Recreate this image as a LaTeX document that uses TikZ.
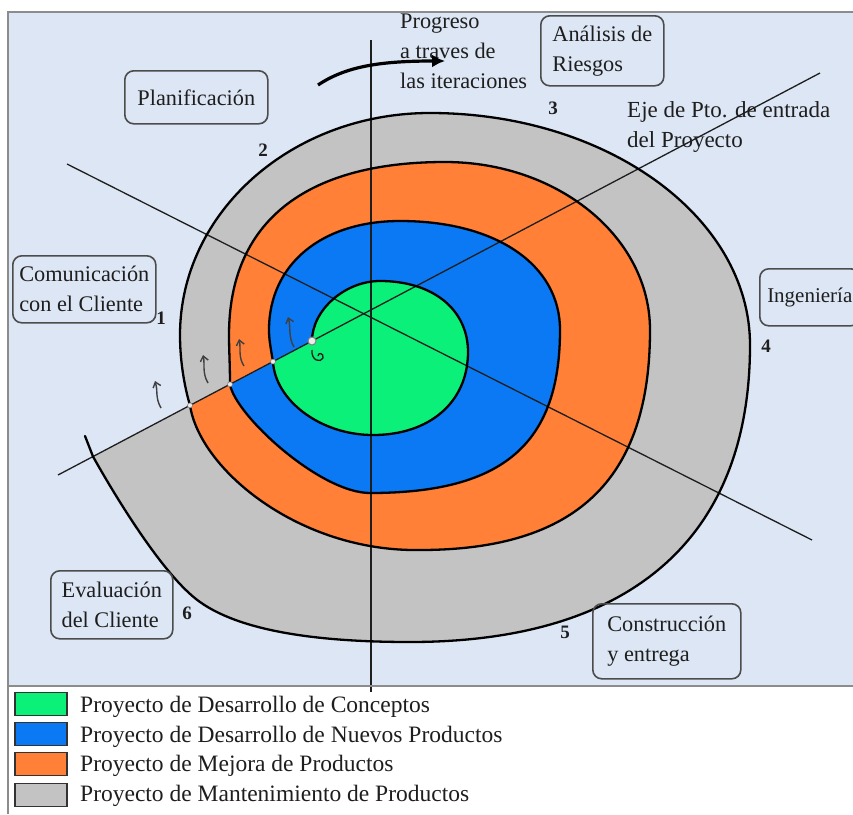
\documentclass[tikz,border=0pt]{standalone}
\usepackage{fontspec}
\setmainfont{Liberation Serif}
\usetikzlibrary{arrows.meta}
\definecolor{panelbg}{HTML}{DDE6F4}
\definecolor{cgreen}{HTML}{0AF078}
\definecolor{cblue}{HTML}{0A79F3}
\definecolor{corange}{HTML}{FF8036}
\definecolor{cgray}{HTML}{C3C3C3}
\definecolor{framec}{HTML}{8C8C8C}
\definecolor{ink}{HTML}{1E1E1E}
\newcommand{\lblsize}{\fontsize{22.3}{30}\selectfont}
\newcommand{\ingsize}{\fontsize{21}{30}\selectfont}
\newcommand{\ejesize}{\fontsize{23}{29.5}\selectfont}
\newcommand{\legsize}{\fontsize{23.5}{30}\selectfont}
\newcommand{\numsize}{\fontsize{19}{19}\selectfont\bfseries}
% spiral turns (clockwise, each starts and ends on the entry axis)
\def\turnA{(312,341) .. controls (312,310) and (345,281) .. (380,281)
  .. controls (432.8,281) and (468,309.4) .. (468,352)
  .. controls (468,401.8) and (430,435) .. (373,435)
  .. controls (320,435) and (275,400) .. (273,361.6)}
\def\turnB{(273,361.6) .. controls (271,350) and (269,340) .. (269,330)
  .. controls (269,264.6) and (321.4,221) .. (400,221)
  .. controls (496,221) and (560,264.6) .. (560,330)
  .. controls (560,444) and (503,493) .. (370,493)
  .. controls (320,493) and (235,415) .. (230,384.3)}
\def\turnC{(230,384.3) .. controls (230,365) and (229,350) .. (229,335)
  .. controls (229,222.5) and (304.6,162) .. (445,162)
  .. controls (558,162) and (650,237) .. (650,330)
  .. controls (650,480) and (576,550) .. (420,550)
  .. controls (300,552) and (200,470) .. (190,405.4)}
\def\turnD{(190,405.4) .. controls (184,385) and (180,360) .. (180,335)
  .. controls (180,212) and (292,113) .. (430,113)
  .. controls (607,113) and (750,217) .. (750,345)
  .. controls (750,538) and (631,642) .. (410,642)
  .. controls (330,642) and (245,634) .. (200,602)
  .. controls (160,574) and (105,478) .. (93,456.5)}
\begin{document}
\begin{tikzpicture}[x=1pt,y=-1pt,
  spiral/.style={line width=2.3pt, draw=black, line join=round, line cap=round},
  axisline/.style={line width=1.3pt, draw=ink},
  txt/.style={font=\lblsize, align=left, inner sep=0pt, text=ink},
  box/.style={txt, draw=black!70, line width=1.6pt, rounded corners=9pt},
  num/.style={font=\numsize, inner sep=0pt, text=ink},
  uparr/.style={line width=1.4pt, draw=black!75, -{Straight Barb[length=5pt,width=8pt]}},
  junction/.style={circle, inner sep=0pt, minimum size=5pt, fill=white!85!gray, draw=gray, line width=0.6pt},
  legbox/.style={draw=black!80, line width=1.8pt, minimum width=52pt, minimum height=23pt, inner sep=0pt},
  legtxt/.style={font=\legsize, anchor=west, inner sep=0pt, text=ink}
]
\useasboundingbox (0,0) rectangle (853,814);
\fill[white] (0,0) rectangle (853,814);
% panel
\fill[panelbg] (8,12) rectangle (853,686);
% spiral bands (outer to inner)
\fill[cgray] \turnD -- cycle;
\fill[corange] \turnC -- cycle;
\fill[cblue] \turnB -- cycle;
\fill[cgreen] \turnA -- cycle;
% axes
\coordinate (A1) at (58,475);
\coordinate (A2) at (820,73);
\coordinate (B1) at (67,164);
\coordinate (B2) at (812,540);
\coordinate (V1) at (371,40);
\coordinate (V2) at (371,692);
\draw[axisline] (A1) -- (A2);
\draw[axisline] (B1) -- (B2);
\draw[axisline] (V1) -- (V2);
% spiral strokes
\draw[spiral] \turnA;
\draw[spiral] \turnB;
\draw[spiral] \turnC;
\draw[spiral] \turnD;
\coordinate (P4) at (93,456.5);
\coordinate (P4e) at (85,436);
\draw[spiral] (P4) -- (P4e);
% junction marks
\node[junction, minimum size=8pt, line width=1pt] (j0) at (312,341) {};
\node[junction] (j1) at (273,361.6) {};
\node[junction] (j2) at (230,384.3) {};
\node[junction] (j3) at (190,405.4) {};
\coordinate (c1) at (312,350);
\coordinate (c2) at (318,356);
\draw[line width=1.3pt, draw=ink] (c1) .. controls (311,361) and (321,363) .. (323,358) .. controls (324,353) and (318,352) .. (c2);
% small progress arrows
\coordinate (u1b) at (161,408); \coordinate (u1t) at (155,381);
\coordinate (u2b) at (208,383); \coordinate (u2t) at (203,355);
\coordinate (u3b) at (244,366); \coordinate (u3t) at (239,339);
\coordinate (u4b) at (294,347); \coordinate (u4t) at (288,317);
\draw[uparr] (u1b) .. controls (155,398) and (158,390) .. (u1t);
\draw[uparr] (u2b) .. controls (202,373) and (205,364) .. (u2t);
\draw[uparr] (u3b) .. controls (238,357) and (241,348) .. (u3t);
\draw[uparr] (u4b) .. controls (288,337) and (291,327) .. (u4t);
% frame
\draw[framec, line width=2.2pt] (853,12) -- (8,12) -- (8,814);
\draw[framec, line width=2pt] (8,686) -- (853,686);
% progress text and arrow
\node[txt, anchor=west] (prog) at (400,51) {Progreso\\a traves de\\las iteraciones};
\coordinate (G1) at (318,85);
\coordinate (G2) at (445,61);
\draw[line width=3.2pt, draw=black, -{Latex[length=13pt,width=13pt]}] (G1) .. controls (345,67) and (378,61) .. (G2);
% labels
\node[box, anchor=north west, minimum width=143pt, minimum height=53pt] (plan) at (124,70) {Planificación};
\node[box, anchor=north west, minimum width=123pt, minimum height=70pt] (ries) at (540,15) {Análisis de\\Riesgos};
\node[box, anchor=north west, minimum width=143pt, minimum height=67pt] (comu) at (12,255) {Comunicación\\con el Cliente};
\node[box, font=\ingsize, anchor=north west, minimum width=100pt, minimum height=57pt] (inge) at (759,268) {Ingeniería};
\node[box, anchor=north west, minimum width=122pt, minimum height=68pt] (eval) at (50,570) {Evaluación\\del Cliente};
\node[box, anchor=north west, minimum width=148pt, minimum height=75pt] (cons) at (592,603) {Construcción\\y entrega};
\node[txt, font=\ejesize, anchor=west] (eje) at (627,127) {Eje de Pto. de entrada\\del Proyecto};
% numbers
\node[num] (n1) at (161,318) {1};
\node[num] (n2) at (263,150) {2};
\node[num] (n3) at (553,108) {3};
\node[num] (n4) at (766,346) {4};
\node[num] (n5) at (565,632) {5};
\node[num] (n6) at (187,613) {6};
% legend
\node[legbox, fill=cgreen] (k1) at (41,704) {};
\node[legbox, fill=cblue] (k2) at (41,734) {};
\node[legbox, fill=corange] (k3) at (41,764) {};
\node[legbox, fill=cgray] (k4) at (41,795) {};
\node[legtxt] (t1) at (80,707) {Proyecto de Desarrollo de Conceptos};
\node[legtxt] (t2) at (80,737) {Proyecto de Desarrollo de Nuevos Productos};
\node[legtxt] (t3) at (80,766) {Proyecto de Mejora de Productos};
\node[legtxt] (t4) at (80,796) {Proyecto de Mantenimiento de Productos};
\end{tikzpicture}
\end{document}
